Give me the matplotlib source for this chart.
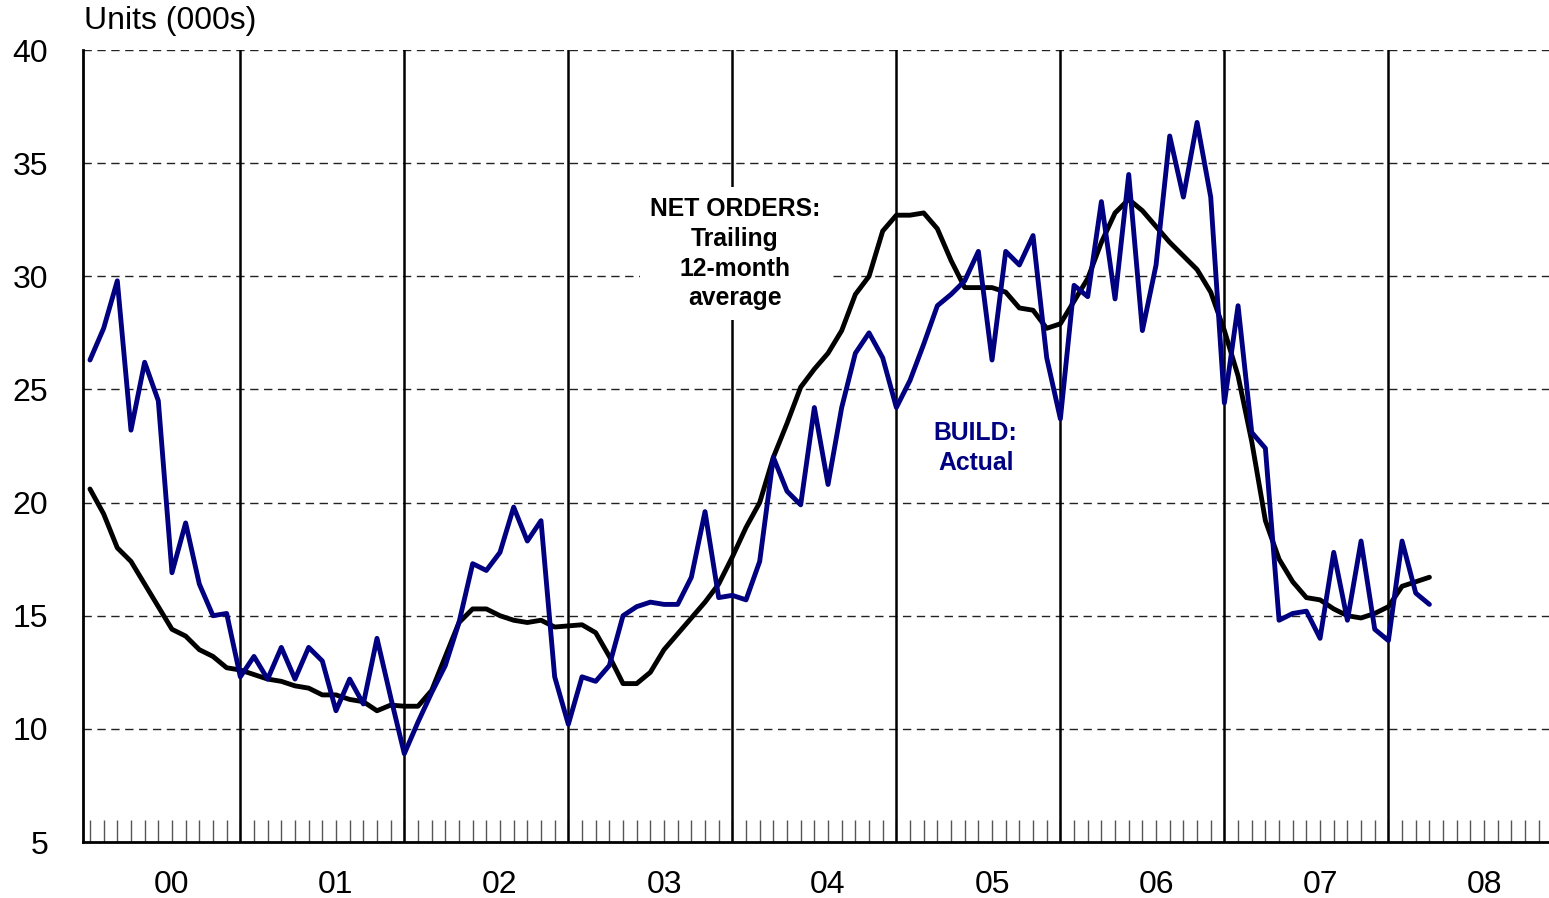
import matplotlib
matplotlib.use("Agg")
import matplotlib.pyplot as plt
import numpy as np

plt.rcParams['font.family'] = ['Liberation Sans', 'DejaVu Sans']

# Month index (1 = first month of 2000)
months = list(range(1, 100))

build_actual = [
    26.3, 27.7, 29.8, 23.2, 26.2, 24.5, 16.9, 19.1, 16.4, 15.0, 15.1, 12.3,
    13.2, 12.2, 13.6, 12.2, 13.6, 13.0, 10.8, 12.2, 11.1, 14.0, 11.4, 8.9,
    10.3, 11.6, 12.8, 14.7, 17.3, 17.0, 17.8, 19.8, 18.3, 19.2, 12.3, 10.2,
    12.3, 12.1, 12.8, 15.0, 15.4, 15.6, 15.5, 15.5, 16.7, 19.6, 15.8, 15.9,
    15.7, 17.4, 22.0, 20.5, 19.9, 24.2, 20.8, 24.2, 26.6, 27.5, 26.4, 24.2,
    25.4, 27.0, 28.7, 29.2, 29.8, 31.1, 26.3, 31.1, 30.5, 31.8, 26.4, 23.7,
    29.6, 29.1, 33.3, 29.0, 34.5, 27.6, 30.5, 36.2, 33.5, 36.8, 33.5, 24.4,
    28.7, 23.1, 22.4, 14.8, 15.1, 15.2, 14.0, 17.8, 14.8, 18.3, 14.4, 13.9,
    18.3, 16.0, 15.5,
]

net_orders_avg = [
    20.6, 19.5, 18.0, 17.4, 16.4, 15.4, 14.4, 14.1, 13.5, 13.2, 12.7, 12.6,
    12.4, 12.2, 12.1, 11.9, 11.8, 11.5, 11.5, 11.3, 11.2, 10.8, 11.05, 11.0,
    11.0, 11.7, 13.2, 14.7, 15.3, 15.3, 15.0, 14.8, 14.7, 14.8, 14.5, 14.55,
    14.6, 14.25, 13.2, 12.0, 12.0, 12.5, 13.5, 14.2, 14.9, 15.6, 16.4, 17.6,
    18.9, 20.0, 22.0, 23.5, 25.1, 25.9, 26.6, 27.6, 29.2, 30.0, 32.0, 32.7,
    32.7, 32.8, 32.1, 30.7, 29.5, 29.5, 29.5, 29.3, 28.6, 28.5, 27.7, 27.9,
    28.9, 29.9, 31.5, 32.8, 33.4, 32.9, 32.2, 31.5, 30.9, 30.3, 29.3, 27.6,
    25.6, 22.7, 19.2, 17.5, 16.5, 15.8, 15.7, 15.3, 15.0, 14.9, 15.1, 15.4,
    16.3, 16.5, 16.7,
]

year_labels = ['00', '01', '02', '03', '04', '05', '06', '07', '08']
year_boundaries = [12, 24, 36, 48, 60, 72, 84, 96]
y_ticks = [5, 10, 15, 20, 25, 30, 35, 40]

fig = plt.figure(figsize=(15.49, 8.98), dpi=100)
ax = fig.add_axes([83 / 1549, 1 - 842 / 898, 1 - 83 / 1549, (842 - 50) / 898])

ax.set_xlim(0.49, 107.75)
ax.set_ylim(5, 40)

# horizontal dashed gridlines
for yv in y_ticks[1:]:
    ax.axhline(yv, color='#222222', lw=1.0, ls=(0, (6, 4)), zorder=1)

# vertical year boundary lines
for xb in year_boundaries:
    ax.axvline(xb, color='black', lw=1.8, zorder=2)

ax.plot(months, net_orders_avg, color='black', lw=3.5, zorder=3,
        solid_joinstyle='round', solid_capstyle='round')
ax.plot(months, build_actual, color='#000080', lw=3.5, zorder=4,
        solid_joinstyle='round', solid_capstyle='round')

for side in ['top', 'right']:
    ax.spines[side].set_visible(False)
for side in ['left', 'bottom']:
    ax.spines[side].set_linewidth(2.0)
    ax.spines[side].set_color('black')

ax.set_yticks(y_ticks)
ax.set_yticklabels([str(v) for v in y_ticks])
ax.tick_params(axis='y', length=0, pad=25, labelsize=23)

ax.xaxis.remove_overlapping_locs = False
ax.set_xticks([12 * i + 7 for i in range(len(year_labels))])
ax.set_xticklabels(year_labels)
ax.set_xticks(list(range(1, 108)), minor=True)
ax.tick_params(axis='x', which='major', length=0, pad=20, labelsize=23)
ax.tick_params(axis='x', which='minor', direction='in', length=15.8,
               width=1.0, color='#555555')

ax.text(48.2, 31.0, 'NET ORDERS:\nTrailing\n12-month\naverage',
        ha='center', va='center', fontsize=17.8, fontweight='bold',
        color='black', linespacing=1.3, zorder=5,
        bbox=dict(facecolor='white', edgecolor='none', pad=7))

ax.text(65.8, 22.4, 'BUILD:\nActual', ha='center', va='center',
        fontsize=17.8, fontweight='bold', color='#000080',
        linespacing=1.3, zorder=5)

fig.text(84 / 1549, 1 - 21 / 898, 'Units (000s)', ha='left', va='center',
         fontsize=23)

fig.savefig('out.png', dpi=100)
